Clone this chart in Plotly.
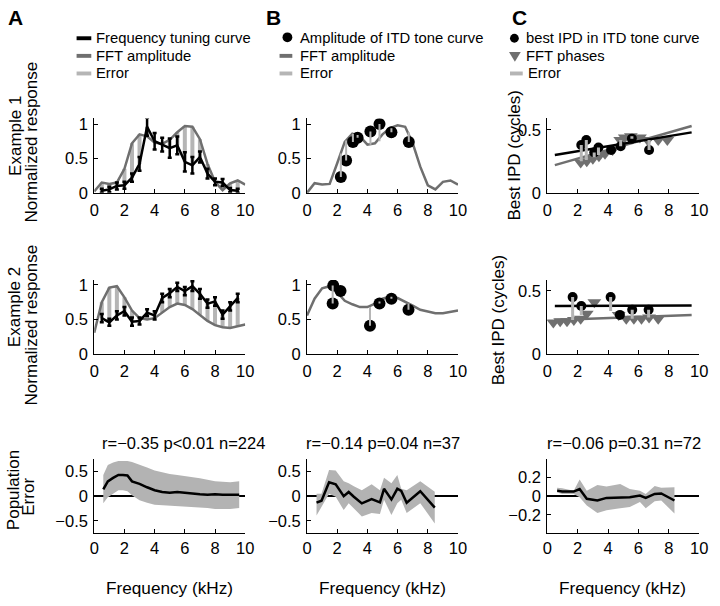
import plotly.graph_objects as go

# ---------------- data ----------------
fft_freq = [0, 0.5, 1, 1.5, 2, 2.5, 3, 3.5, 4, 4.5, 5, 5.5, 6, 6.5, 7, 7.5, 8, 8.5, 9, 9.5, 10]

# Panel A, example 1
a1_freq = [0.5, 1, 1.5, 2, 2.5, 3, 3.5, 4, 4.5, 5, 5.5, 6, 6.5, 7, 7.5, 8, 8.5, 9, 9.5]
a1_resp = [0.03, 0.05, 0.10, 0.11, 0.22, 0.42, 0.96, 0.75, 0.70, 0.65, 0.69, 0.45, 0.40, 0.52, 0.28, 0.16, 0.15, 0.04, 0.03]
a1_sem = [0.03, 0.04, 0.05, 0.05, 0.06, 0.10, 0.13, 0.12, 0.10, 0.14, 0.13, 0.14, 0.12, 0.08, 0.07, 0.05, 0.05, 0.03, 0.03]
a1_fft = [0.02, 0.15, 0.13, 0.15, 0.35, 0.72, 0.85, 0.82, 0.73, 0.71, 0.77, 0.88, 0.97, 0.96, 0.78, 0.42, 0.16, 0.04, 0.14, 0.18, 0.12]

# Panel A, example 2
a2_freq = a1_freq
a2_resp = [0.52, 0.46, 0.56, 0.62, 0.47, 0.48, 0.60, 0.56, 0.81, 0.88, 0.97, 0.91, 0.98, 0.87, 0.73, 0.76, 0.57, 0.69, 0.81]
a2_sem = [0.06, 0.05, 0.06, 0.06, 0.06, 0.05, 0.05, 0.06, 0.06, 0.06, 0.06, 0.06, 0.07, 0.07, 0.06, 0.06, 0.06, 0.06, 0.06]
a2_fft = [0.31, 0.75, 0.96, 0.98, 0.82, 0.63, 0.52, 0.50, 0.52, 0.60, 0.68, 0.73, 0.71, 0.65, 0.57, 0.48, 0.42, 0.39, 0.38, 0.40, 0.43]

# Panel B, example 1
b1_fft = [0.00, 0.14, 0.12, 0.13, 0.43, 0.74, 0.86, 0.82, 0.70, 0.72, 0.85, 0.94, 0.98, 0.96, 0.72, 0.38, 0.11, 0.05, 0.16, 0.18, 0.12]
b1_dot_f = [2.24, 2.59, 3.04, 3.35, 4.20, 4.80, 5.59, 6.74]
b1_dot_amp = [0.23, 0.47, 0.74, 0.80, 0.89, 1.00, 0.88, 0.74]
b1_fft_at_dot = [0.57, 0.76, 0.86, 0.84, 0.70, 0.75, 0.94, 0.88]

# Panel B, example 2
b2_fft = [0.56, 0.80, 0.95, 0.98, 0.89, 0.77, 0.72, 0.68, 0.68, 0.73, 0.80, 0.83, 0.81, 0.76, 0.70, 0.64, 0.61, 0.59, 0.59, 0.61, 0.63]
b2_dot_f = [1.70, 1.74, 2.22, 4.17, 4.80, 5.59, 6.72]
b2_dot_amp = [0.73, 0.99, 0.91, 0.41, 0.73, 0.80, 0.64]
b2_fft_at_dot = [0.99, 0.99, 0.91, 0.68, 0.76, 0.83, 0.73]

# Panel C, example 1
c1_dot_f = [2.24, 2.57, 3.09, 3.37, 4.20, 4.83, 5.57, 6.70]
c1_dot_ipd = [0.38, 0.42, 0.32, 0.36, 0.34, 0.37, 0.43, 0.34]
c1_fft_at_dot = [0.25, 0.26, 0.28, 0.30, 0.34, 0.42, 0.45, 0.42]
c1_tri_f = [2.2, 2.6, 3.0, 3.4, 3.8, 4.3, 4.8, 5.1, 5.5, 6.1, 6.6, 7.3, 7.9]
c1_tri = [0.24, 0.25, 0.27, 0.29, 0.31, 0.34, 0.42, 0.44, 0.45, 0.44, 0.42, 0.42, 0.42]
c1_fit_f = [0.5, 9.5]
c1_fit_dot = [0.30, 0.48]
c1_fit_fft = [0.22, 0.53]

# Panel C, example 2
c2_dot_f = [1.67, 2.24, 4.17, 4.78, 5.59, 6.67]
c2_dot_ipd = [0.45, 0.38, 0.45, 0.31, 0.35, 0.35]
c2_fft_at_dot = [0.27, 0.31, 0.34, 0.31, 0.28, 0.29]
c2_tri_f = [0.4, 0.85, 1.3, 1.75, 2.2, 2.6, 3.1, 4.7, 5.2, 5.7, 6.2, 6.7, 7.3]
c2_tri = [0.25, 0.26, 0.26, 0.27, 0.28, 0.32, 0.41, 0.31, 0.28, 0.28, 0.28, 0.29, 0.28]
c2_fit_f = [0.5, 9.5]
c2_fit_dot = [0.38, 0.385]
c2_fit_fft = [0.27, 0.31]

# Population panels
a3_f = [0.6, 0.9, 1.25, 1.6, 1.9, 2.2, 2.5, 3.0, 3.5, 4.0, 4.5, 5.0, 5.5, 6.0, 6.5, 7.0, 7.5, 8.0, 8.5, 9.0, 9.6]
a3_mean = [0.14, 0.30, 0.37, 0.43, 0.43, 0.42, 0.30, 0.25, 0.18, 0.12, 0.085, 0.07, 0.085, 0.065, 0.05, 0.04, 0.03, 0.04, 0.03, 0.03, 0.03]
a3_hi = [0.43, 0.63, 0.68, 0.71, 0.71, 0.71, 0.69, 0.64, 0.58, 0.52, 0.48, 0.45, 0.43, 0.41, 0.39, 0.36, 0.33, 0.30, 0.29, 0.28, 0.30]
a3_lo = [-0.14, -0.02, 0.05, 0.12, 0.12, 0.10, 0.02, -0.08, -0.13, -0.17, -0.18, -0.18, -0.19, -0.21, -0.22, -0.23, -0.24, -0.26, -0.26, -0.26, -0.24]

b3_f = [0.63, 0.96, 1.46, 1.9, 2.43, 2.76, 3.1, 3.63, 4.28, 4.83, 5.1, 5.59, 5.98, 6.24, 6.6, 7.5, 8.46]
b3_mean = [-0.13, -0.09, 0.28, 0.24, 0.0, 0.085, -0.01, -0.145, -0.06, -0.125, 0.15, -0.066, 0.15, 0.105, -0.13, 0.10, -0.23]
b3_hi = [0.05, 0.05, 0.53, 0.52, 0.30, 0.26, 0.20, 0.12, 0.24, 0.12, 0.37, 0.26, 0.43, 0.15, 0.12, 0.30, 0.09]
b3_lo = [-0.39, -0.21, 0.05, -0.01, -0.28, -0.14, -0.24, -0.41, -0.34, -0.36, -0.07, -0.38, -0.14, -0.07, -0.34, -0.14, -0.55]

c3_f = [0.65, 0.98, 1.74, 2.13, 2.6, 3.3, 3.9, 4.8, 5.43, 6.1, 6.48, 7.07, 7.5, 8.37]
c3_mean = [0.06, 0.05, 0.05, 0.077, -0.028, -0.046, -0.018, -0.018, -0.01, 0.007, -0.018, 0.025, 0.03, -0.046]
c3_hi = [0.09, 0.085, 0.06, 0.18, 0.06, 0.12, 0.105, 0.13, 0.077, 0.06, 0.025, 0.11, 0.09, 0.095]
c3_lo = [0.04, 0.025, 0.025, -0.01, -0.10, -0.18, -0.15, -0.13, -0.116, -0.063, -0.13, -0.053, -0.046, -0.186]

pop_titles = ["r=\u22120.35 p&lt;0.01 n=224", "r=\u22120.14 p=0.04 n=37", "r=\u22120.06 p=0.31 n=72"]
x_ticks = [0, 2, 4, 6, 8, 10]

# ---------------- style ----------------
BLACK = "#000000"
DARK = "#6f6f6f"
LIGHT = "#b5b5b5"
BAND = "#b3b3b3"
FONT = "Liberation Sans, Arial, sans-serif"
W, H = 720, 606

def px(x):
    return x / W

def py(y):
    return 1 - y / H

fig = go.Figure()

def seg(xs, y0s, y1s):
    X, Y = [], []
    for x, a, b in zip(xs, y0s, y1s):
        X += [x, x, None]
        Y += [a, b, None]
    return X, Y

# ---- A1 ----
ax = dict(xaxis="x", yaxis="y")
fft_a1_at = [a1_fft[fft_freq.index(f)] for f in a1_freq]
X, Y = seg(a1_freq, a1_resp, fft_a1_at)
fig.add_trace(go.Scatter(x=X, y=Y, mode="lines", line=dict(color=LIGHT, width=4), **ax))
fig.add_trace(go.Scatter(x=fft_freq, y=a1_fft, mode="lines", line=dict(color=DARK, width=2.5), **ax))
fig.add_trace(go.Scatter(x=a1_freq, y=a1_resp, mode="lines", line=dict(color=BLACK, width=2.5),
                         error_y=dict(type="data", array=a1_sem, color=BLACK, thickness=2.5, width=2), **ax))

# ---- A2 ----
ax = dict(xaxis="x4", yaxis="y4")
fft_a2_at = [a2_fft[fft_freq.index(f)] for f in a2_freq]
X, Y = seg(a2_freq, a2_resp, fft_a2_at)
fig.add_trace(go.Scatter(x=X, y=Y, mode="lines", line=dict(color=LIGHT, width=4), **ax))
fig.add_trace(go.Scatter(x=fft_freq, y=a2_fft, mode="lines", line=dict(color=DARK, width=2.5), **ax))
fig.add_trace(go.Scatter(x=a2_freq, y=a2_resp, mode="lines", line=dict(color=BLACK, width=2.5),
                         error_y=dict(type="data", array=a2_sem, color=BLACK, thickness=2.5, width=2), **ax))

# ---- B1 ----
ax = dict(xaxis="x2", yaxis="y2")
fig.add_trace(go.Scatter(x=fft_freq, y=b1_fft, mode="lines", line=dict(color=DARK, width=2.5), **ax))
fig.add_trace(go.Scatter(x=b1_dot_f, y=b1_dot_amp, mode="markers",
                         marker=dict(color=BLACK, size=12, symbol="circle"), **ax))
X, Y = seg(b1_dot_f, b1_dot_amp, b1_fft_at_dot)
fig.add_trace(go.Scatter(x=X, y=Y, mode="lines", line=dict(color=LIGHT, width=2), **ax))

# ---- B2 ----
ax = dict(xaxis="x5", yaxis="y5")
fig.add_trace(go.Scatter(x=fft_freq, y=b2_fft, mode="lines", line=dict(color=DARK, width=2.5), **ax))
fig.add_trace(go.Scatter(x=b2_dot_f, y=b2_dot_amp, mode="markers",
                         marker=dict(color=BLACK, size=12, symbol="circle"), **ax))
X, Y = seg(b2_dot_f, b2_dot_amp, b2_fft_at_dot)
fig.add_trace(go.Scatter(x=X, y=Y, mode="lines", line=dict(color=LIGHT, width=2), **ax))

# ---- C1 ----
ax = dict(xaxis="x3", yaxis="y3")
fig.add_trace(go.Scatter(x=c1_tri_f, y=c1_tri, mode="markers",
                         marker=dict(color=DARK, size=12, symbol="triangle-down"), **ax))
fig.add_trace(go.Scatter(x=c1_fit_f, y=c1_fit_fft, mode="lines", line=dict(color=DARK, width=2.5), **ax))
fig.add_trace(go.Scatter(x=c1_fit_f, y=c1_fit_dot, mode="lines", line=dict(color=BLACK, width=2.5), **ax))
fig.add_trace(go.Scatter(x=c1_dot_f, y=c1_dot_ipd, mode="markers",
                         marker=dict(color=BLACK, size=10, symbol="circle"), **ax))
X, Y = seg(c1_dot_f, c1_dot_ipd, c1_fft_at_dot)
fig.add_trace(go.Scatter(x=X, y=Y, mode="lines", line=dict(color=LIGHT, width=3), **ax))

# ---- C2 ----
ax = dict(xaxis="x6", yaxis="y6")
fig.add_trace(go.Scatter(x=c2_tri_f, y=c2_tri, mode="markers",
                         marker=dict(color=DARK, size=12, symbol="triangle-down"), **ax))
fig.add_trace(go.Scatter(x=c2_fit_f, y=c2_fit_fft, mode="lines", line=dict(color=DARK, width=2.5), **ax))
fig.add_trace(go.Scatter(x=c2_fit_f, y=c2_fit_dot, mode="lines", line=dict(color=BLACK, width=2.5), **ax))
fig.add_trace(go.Scatter(x=c2_dot_f, y=c2_dot_ipd, mode="markers",
                         marker=dict(color=BLACK, size=10, symbol="circle"), **ax))
X, Y = seg(c2_dot_f, c2_dot_ipd, c2_fft_at_dot)
fig.add_trace(go.Scatter(x=X, y=Y, mode="lines", line=dict(color=LIGHT, width=3), **ax))

# ---- population ----
for (f, m, hi, lo, xa, ya) in [(a3_f, a3_mean, a3_hi, a3_lo, "x7", "y7"),
                               (b3_f, b3_mean, b3_hi, b3_lo, "x8", "y8"),
                               (c3_f, c3_mean, c3_hi, c3_lo, "x9", "y9")]:
    fig.add_trace(go.Scatter(x=f + f[::-1], y=hi + lo[::-1], mode="lines", fill="toself",
                             fillcolor=BAND, line=dict(width=0, color=BAND), xaxis=xa, yaxis=ya))
    fig.add_trace(go.Scatter(x=f, y=m, mode="lines", line=dict(color=BLACK, width=2.5), xaxis=xa, yaxis=ya))

# ---------------- axes ----------------
xdom = {"A": [px(91), px(245)], "B": [px(308), px(462)], "C": [px(553), px(708)]}
ydom = {1: [py(193), py(117)], 2: [py(358), py(282)], 3: [py(541), py(465)]}

layout_axes = {}
spec = [
    ("", "A", 1, [0, 1.08], [0, 0.5, 1], ["0", "0.5", "1"]),
    ("2", "B", 1, [0, 1.08], [0, 0.5, 1], ["0", "0.5", "1"]),
    ("3", "C", 1, [0, 0.59], [0, 0.5], ["0", "0.5"]),
    ("4", "A", 2, [0, 1.07], [0, 0.5, 1], ["0", "0.5", "1"]),
    ("5", "B", 2, [0, 1.07], [0, 0.5, 1], ["0", "0.5", "1"]),
    ("6", "C", 2, [0, 0.585], [0, 0.5], ["0", "0.5"]),
    ("7", "A", 3, [-0.75, 0.75], [-0.5, 0, 0.5], ["\u22120.5", "0", "0.5"]),
    ("8", "B", 3, [-0.75, 0.75], [-0.5, 0, 0.5], ["\u22120.5", "0", "0.5"]),
    ("9", "C", 3, [-0.4, 0.4], [-0.2, 0, 0.2], ["\u22120.2", "0", "0.2"]),
]
common = dict(showline=True, linecolor=BLACK, linewidth=1, ticks="inside", ticklen=4,
              tickcolor=BLACK, showgrid=False, mirror=False,
              tickfont=dict(family=FONT, size=16.5, color=BLACK))
for sfx, col, row, yr, yt, ytl in spec:
    layout_axes["xaxis" + sfx] = dict(common, domain=xdom[col], range=[0, 10], tickvals=x_ticks,
                                      ticktext=[str(v) for v in x_ticks], zeroline=False,
                                      anchor="y" + sfx, ticklabelstandoff=(0 if row == 3 else 2))
    layout_axes["yaxis" + sfx] = dict(common, domain=ydom[row], range=yr, tickvals=yt, ticktext=ytl,
                                      zeroline=(row == 3), zerolinecolor=BLACK, zerolinewidth=2,
                                      anchor="x" + sfx, ticklabelstandoff=2)

fig.update_layout(**layout_axes)

# ---------------- text ----------------
ann = []

def text(x, y, s, size=16, angle=0, xanchor="center", bold=False, color=BLACK):
    ann.append(dict(x=px(x), y=py(y), xref="paper", yref="paper", text=("<b>%s</b>" % s) if bold else s,
                    showarrow=False, textangle=angle, xanchor=xanchor, yanchor="middle",
                    font=dict(family=FONT, size=size, color=color), borderpad=0))

# panel letters
text(11, 14, "A", size=21, bold=True)
text(274, 14, "B", size=21, bold=True)
text(525, 14, "C", size=21, bold=True)

# legends
LEG = 14.8
text(92, 35, "Frequency tuning curve", size=LEG, xanchor="left")
text(92, 53, "FFT amplitude", size=LEG, xanchor="left")
text(92, 71, "Error", size=LEG, xanchor="left")
text(300, 35, "Amplitude of ITD tone curve", size=LEG, xanchor="left")
text(300, 53, "FFT amplitude", size=LEG, xanchor="left")
text(300, 71, "Error", size=LEG, xanchor="left")
text(530, 35, "best IPD in ITD tone curve", size=LEG, xanchor="left")
text(530, 53, "FFT phases", size=LEG, xanchor="left")
text(532, 71, "Error", size=LEG, xanchor="left")

# y titles
YT = 17
text(10, 135, "Example 1", size=YT, angle=-90)
text(28, 141, "Normalized response", size=YT, angle=-90)
text(10, 310, "Example 2", size=YT, angle=-90)
text(28, 328, "Normalized response", size=YT, angle=-90)
text(9, 497, "Population", size=YT, angle=-90)
text(24, 504, "Error", size=YT, angle=-90)
text(520, 155, "Best IPD (cycles)", size=YT, angle=-90)
text(503, 323, "Best IPD (cycles)", size=YT, angle=-90)

# population titles
text(98, 449, pop_titles[0], size=16.5, xanchor="left")
text(306, 449, pop_titles[1], size=16.5, xanchor="left")
text(552, 449, pop_titles[2], size=16.5, xanchor="left")

# x titles
for cx in [168, 385, 630]:
    text(cx, 597, "Frequency (kHz)", size=17.2)

# legend symbols
shapes = []

def bar(x0, x1, y, color, h=4):
    shapes.append(dict(type="rect", xref="paper", yref="paper", x0=px(x0), x1=px(x1),
                       y0=py(y + h / 2), y1=py(y - h / 2), fillcolor=color, line=dict(width=0)))

bar(73, 88, 35, BLACK)
bar(73, 88, 53, DARK)
bar(73, 88, 71, LIGHT)
shapes.append(dict(type="circle", xref="paper", yref="paper", x0=px(283), x1=px(293), y0=py(39), y1=py(29),
                   fillcolor=BLACK, line=dict(width=0)))
bar(280, 293, 53, DARK)
bar(280, 293, 71, LIGHT)
shapes.append(dict(type="circle", xref="paper", yref="paper", x0=px(515), x1=px(524), y0=py(39.5), y1=py(30.5),
                   fillcolor=BLACK, line=dict(width=0)))
shapes.append(dict(type="path", xref="paper", yref="paper",
                   path="M %f %f L %f %f L %f %f Z" % (px(514), py(49), px(526), py(49), px(520), py(59)),
                   fillcolor=DARK, line=dict(width=0)))
bar(515, 528, 71, LIGHT)

fig.update_layout(annotations=ann, shapes=shapes, width=W, height=H,
                  margin=dict(l=0, r=0, t=0, b=0), showlegend=False,
                  paper_bgcolor="white", plot_bgcolor="white",
                  font=dict(family=FONT, color=BLACK))

fig.write_html("out.html", config={"displayModeBar": False},
               post_script="document.body.style.margin='0';document.body.style.overflow='hidden';")
